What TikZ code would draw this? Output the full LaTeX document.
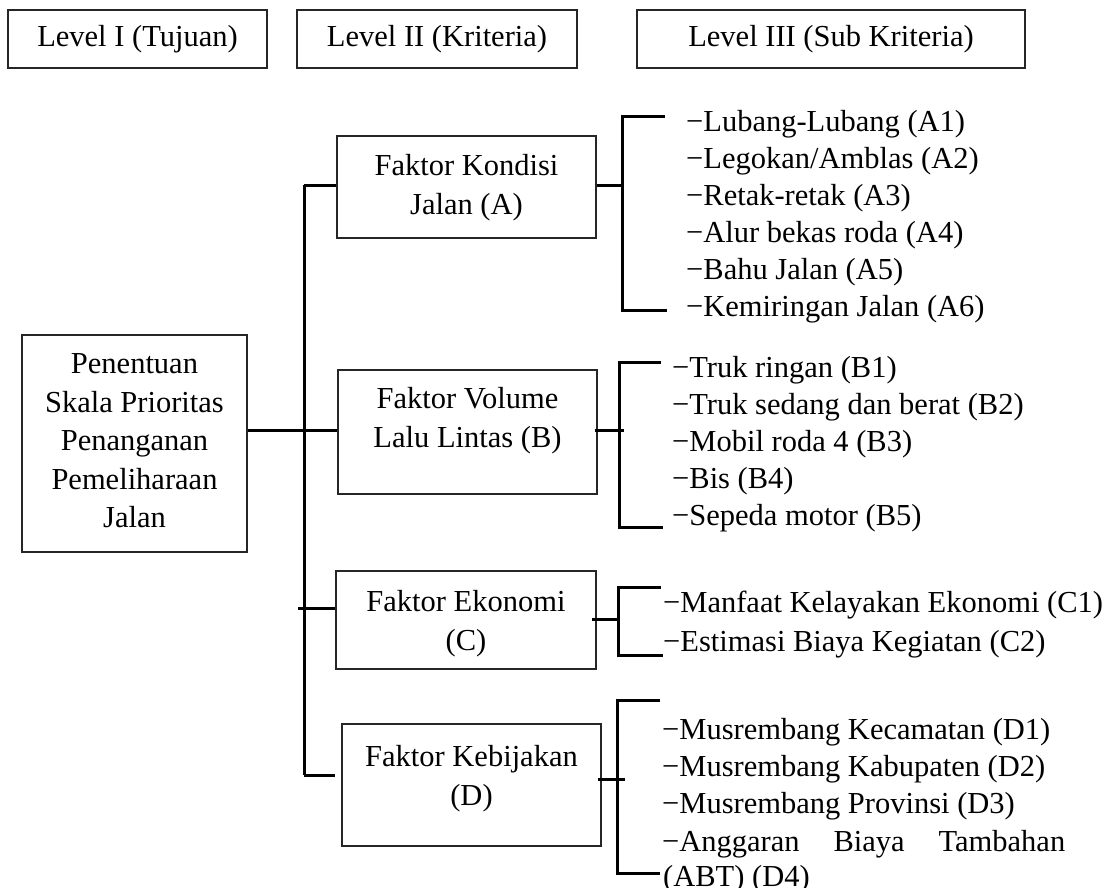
\documentclass[tikz,border=0pt]{standalone}
\usepackage{fontspec}
\setmainfont{Liberation Serif}
\begin{document}
\begin{tikzpicture}[x=1pt,y=-1pt,
  every node/.style={font=\fontsize{30.5}{37}\selectfont, inner sep=0pt},
  frame/.style={draw=black!85, line width=1.3pt, rectangle},
  boxtext/.style={align=center, font=\fontsize{30.5}{39}\selectfont},
  item/.style={anchor=base west},
  link/.style={line width=3pt, black}
]
\useasboundingbox (0,0) rectangle (1113,887);

% level headers
\node[frame, minimum width=259pt, minimum height=58pt] (h1) at (137.5,39) {Level I (Tujuan)};
\node[frame, minimum width=280pt, minimum height=58pt] (h2) at (437,39) {Level II (Kriteria)};
\node[frame, minimum width=388pt, minimum height=58pt] (h3) at (831,39) {Level III (Sub Kriteria)};

% goal
\node[frame, minimum width=225pt, minimum height=217pt] (G) at (134.5,443.5) {};
\node[boxtext, font=\fontsize{30.5}{38.5}\selectfont] (Gt) at (134.5,441) {Penentuan\\Skala Prioritas\\Penanganan\\Pemeliharaan\\Jalan};

% criteria
\node[frame, minimum width=259pt, minimum height=102pt] (A) at (466.5,187) {};
\node[boxtext] (At) at (466.5,188) {Faktor Kondisi\\Jalan (A)};
\node[frame, minimum width=259pt, minimum height=124pt] (B) at (467.5,432) {};
\node[boxtext] (Bt) at (467.5,421) {Faktor Volume\\Lalu Lintas (B)};
\node[frame, minimum width=260pt, minimum height=98pt] (C) at (466,620) {};
\node[boxtext] (Ct) at (466,624) {Faktor Ekonomi\\(C)};
\node[frame, minimum width=259pt, minimum height=122pt] (D) at (471.5,785) {};
\node[boxtext] (Dt) at (471.5,779) {Faktor Kebijakan\\(D)};

% trunk from goal to criteria
\coordinate (tA) at (304,185);
\coordinate (mB) at (304,430);
\coordinate (mC) at (304,608);
\coordinate (tD) at (304,775);
\draw[link] (tA) -- (tD);
\draw[link] (tA) -- (A.west |- tA);
\draw[link] (G.east |- mB) -- (B.west |- mB);
\draw[link] ([xshift=-6pt]mC) -- (C.west |- mC);
\draw[link] (tD) -- ([xshift=-6pt]D.west |- tD);

% brackets to sub criteria
\coordinate (bA) at (622,185);
\coordinate (aTop) at (665,116);
\coordinate (aBot) at (667,310);
\draw[link] (A.east |- bA) -- ([xshift=2pt]bA);
\draw[link] (aTop) -| (bA |- aBot) -- (aBot);

\coordinate (bB) at (619,430);
\coordinate (bTop) at (661,362);
\coordinate (bBot) at (663,527);
\draw[link] ([xshift=-3pt]B.east |- bB) -- ([xshift=5pt]bB);
\draw[link] (bTop) -| (bB |- bBot) -- (bBot);

\coordinate (bC) at (618,619);
\coordinate (cTop) at (661,587);
\coordinate (cBot) at (663,655);
\draw[link] ([xshift=-5pt]C.east |- bC) -- ([xshift=2pt]bC);
\draw[link] (cTop) -| (bC |- cBot) -- (cBot);

\coordinate (bD) at (617,779);
\coordinate (dTop) at (660,700);
\coordinate (dBot) at (660,873);
\draw[link] ([xshift=-4pt]D.east |- bD) -- ([xshift=8pt]bD);
\draw[link] (dTop) -| (bD |- dBot) -- (dBot);

% sub criteria lists
\node[item] (a1) at (686,131) {−Lubang-Lubang (A1)};
\node[item] (a2) at (686,168) {−Legokan/Amblas (A2)};
\node[item] (a3) at (686,205) {−Retak-retak (A3)};
\node[item] (a4) at (686,242) {−Alur bekas roda (A4)};
\node[item] (a5) at (686,279) {−Bahu Jalan (A5)};
\node[item] (a6) at (686,316) {−Kemiringan Jalan (A6)};

\node[item] (b1) at (672,377) {−Truk ringan (B1)};
\node[item] (b2) at (672,414) {−Truk sedang dan berat (B2)};
\node[item] (b3) at (672,451) {−Mobil roda 4 (B3)};
\node[item] (b4) at (672,488) {−Bis (B4)};
\node[item] (b5) at (672,525) {−Sepeda motor (B5)};

\node[item] (c1) at (663,612) {−Manfaat Kelayakan Ekonomi (C1)};
\node[item] (c2) at (663,651) {−Estimasi Biaya Kegiatan (C2)};

\node[item] (d1) at (662,739) {−Musrembang Kecamatan (D1)};
\node[item] (d2) at (662,776) {−Musrembang Kabupaten (D2)};
\node[item] (d3) at (662,813) {−Musrembang Provinsi (D3)};
\node[item] (d4) at (662,851) {\hbox to 403pt{−Anggaran\hfill Biaya\hfill Tambahan}};
\node[item] (d4b) at (663,886) {(ABT) (D4)};
\end{tikzpicture}
\end{document}
